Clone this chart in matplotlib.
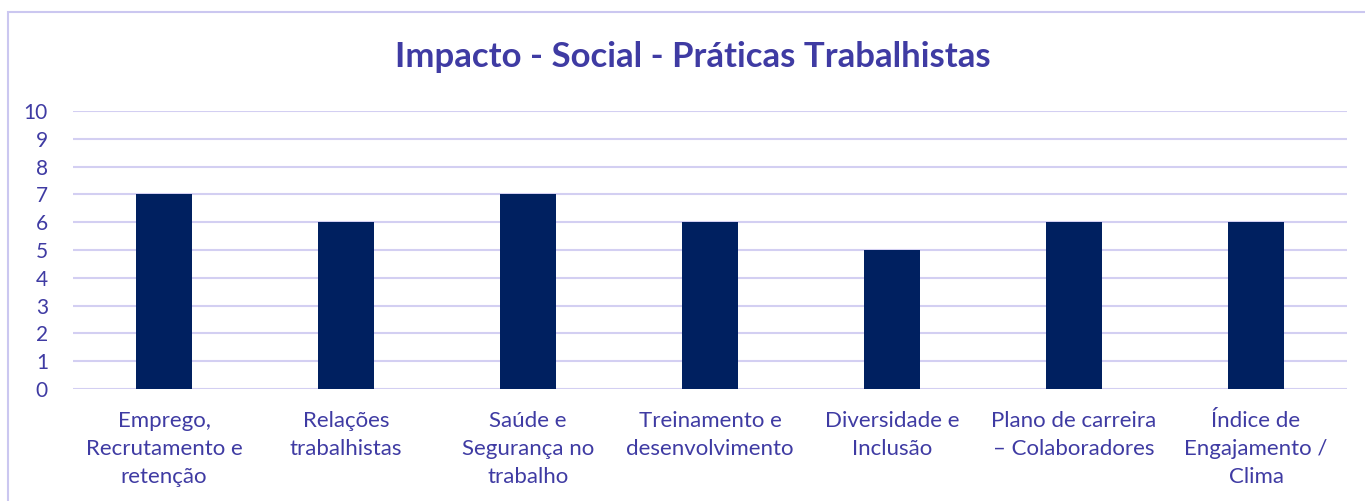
import matplotlib
matplotlib.use("Agg")
import matplotlib.pyplot as plt
from matplotlib.patches import Rectangle

categories = ["Emprego,\nRecrutamento e\nretenção", "Relações\ntrabalhistas",
              "Saúde e\nSegurança no\ntrabalho", "Treinamento e\ndesenvolvimento",
              "Diversidade e\nInclusão", "Plano de carreira\n– Colaboradores",
              "Índice de\nEngajamento /\nClima"]
values = [7, 6, 7, 6, 5, 6, 6]
yticks = list(range(0, 11))

TEXT = "#3F3BA3"
BAR = "#002060"
GRID = "#D3CFF2"
BORDER = "#CBC7F0"

plt.rcParams['font.family'] = ['Lato', 'DejaVu Sans']

W, H = 1365, 501
fig = plt.figure(figsize=(W/100, H/100), dpi=100)
fig.patches.append(Rectangle((8/W, -0.1), 1.2, 1 - 12/H + 0.1, transform=fig.transFigure,
                             facecolor="none", edgecolor=BORDER, linewidth=1.5, zorder=-1))

ax = fig.add_axes([73/W, 1 - 389/H, (1347-73)/W, (389-111)/H])
ax.set_facecolor("none")
x = range(len(categories))
ax.bar(x, values, width=0.31, color=BAR, zorder=3)
ax.set_xlim(-0.5, len(categories) - 0.5)
ax.set_ylim(0, 10)
ax.set_yticks(yticks)
ax.set_yticklabels([str(t) for t in yticks])
ax.set_xticks(list(x))
ax.set_xticklabels(categories, linespacing=1.5)
for s in ax.spines.values():
    s.set_visible(False)
ax.grid(axis="y", color=GRID, linewidth=1.5, zorder=0)
ax.tick_params(axis="y", length=0, pad=18, labelsize=15, labelcolor=TEXT)
ax.tick_params(axis="x", length=0, pad=16, labelsize=16, labelcolor=TEXT)
for lbl in ax.get_yticklabels():
    lbl.set_horizontalalignment("right")

fig.text(693/W, 1 - 57/H, "Impacto - Social - Práticas Trabalhistas", ha="center", va="center",
         fontsize=25, fontweight="bold", color=TEXT)

fig.savefig("out.png", dpi=100)
